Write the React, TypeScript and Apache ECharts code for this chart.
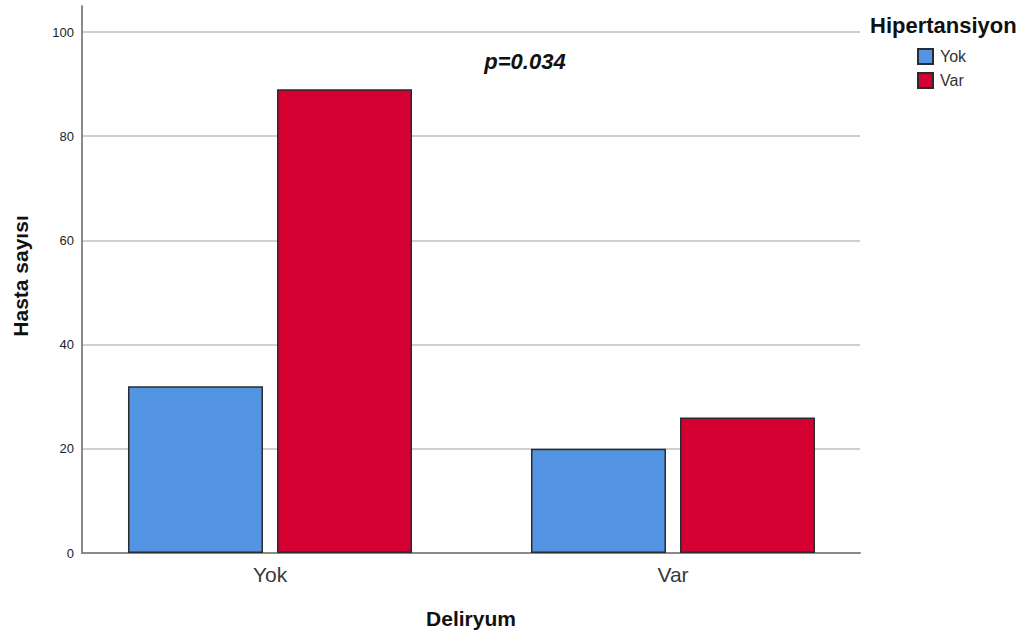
import React, { useEffect, useRef } from "react";
import * as echarts from "echarts";

const categories = ["Yok", "Var"];
const seriesNames = ["Yok", "Var"];
const yokValues = [32, 20];
const varValues = [89, 26];
const colors = ["#5394E3", "#D50032"];
const legendTitle = "Hipertansiyon";
const xTitle = "Deliryum";
const yTitle = "Hasta sayısı";
const annotation = "p=0.034";

const FONT = "'Liberation Sans', Arial, sans-serif";

export default function App() {
  const ref = useRef<HTMLDivElement>(null);
  useEffect(() => {
    if (!ref.current) return;
    const chart = echarts.init(ref.current, undefined, { renderer: "svg" });
    const gridTop = 6;
    const gridBottom = 86;
    chart.setOption({
      animation: false,
      backgroundColor: "#ffffff",
      textStyle: { fontFamily: FONT },
      grid: [
        { left: 82, right: 1027 - 860, top: gridTop, bottom: gridBottom, containLabel: false },
        { left: 68.5, right: 1027 - 874.5, top: gridTop, bottom: gridBottom, containLabel: false },
      ],
      xAxis: [
        {
          type: "category",
          gridIndex: 0,
          data: categories,
          axisLine: { show: true, lineStyle: { color: "#8a8a8a", width: 2 } },
          axisTick: { show: false },
          axisLabel: { show: false },
          splitLine: { show: false },
        },
        {
          type: "category",
          gridIndex: 1,
          data: categories,
          axisLine: { show: false },
          axisTick: { show: false },
          axisLabel: { show: true, fontSize: 21, color: "#3a3a3a", margin: 11, fontFamily: FONT },
          splitLine: { show: false },
        },
      ],
      yAxis: [
        {
          type: "value",
          gridIndex: 0,
          min: 0,
          max: 105,
          interval: 20,
          axisLine: { show: true, lineStyle: { color: "#8a8a8a", width: 2 } },
          axisTick: { show: false },
          axisLabel: { fontSize: 13, color: "#222222", margin: 8, showMaxLabel: false, fontFamily: FONT },
          splitLine: { show: true, showMaxLine: false, lineStyle: { color: "#cfcfcf", width: 2 } },
        },
        {
          type: "value",
          gridIndex: 1,
          min: 0,
          max: 105,
          interval: 20,
          axisLine: { show: false },
          axisTick: { show: false },
          axisLabel: { show: false },
          splitLine: { show: false },
        },
      ],
      legend: {
        data: seriesNames,
        orient: "vertical",
        left: 917,
        top: 48,
        padding: 0,
        itemWidth: 15,
        itemHeight: 15,
        itemGap: 7,
        icon: "rect",
        textStyle: { fontSize: 16, color: "#333333", fontFamily: FONT, padding: [0, 0, 0, 2] },
      },
      series: [
        {
          name: seriesNames[0],
          type: "bar",
          xAxisIndex: 1,
          yAxisIndex: 1,
          data: yokValues,
          barWidth: 135,
          barGap: "10.4%",
          itemStyle: { color: colors[0], borderColor: "#2b2b2b", borderWidth: 1.5 },
        },
        {
          name: seriesNames[1],
          type: "bar",
          xAxisIndex: 1,
          yAxisIndex: 1,
          data: varValues,
          barWidth: 135,
          barGap: "10.4%",
          itemStyle: { color: colors[1], borderColor: "#2b2b2b", borderWidth: 1.5 },
        },
      ],
      graphic: [
        {
          type: "text",
          left: 870,
          top: 14,
          style: { text: legendTitle, font: `bold 22px ${FONT}`, fill: "#111111" },
        },
        {
          type: "text",
          x: 525,
          y: 61,
          style: {
            text: annotation,
            font: `italic bold 22px ${FONT}`,
            fill: "#111111",
            textAlign: "center",
            textVerticalAlign: "middle",
          },
        },
        {
          type: "text",
          x: 471,
          y: 618,
          style: {
            text: xTitle,
            font: `bold 21px ${FONT}`,
            fill: "#111111",
            textAlign: "center",
            textVerticalAlign: "middle",
          },
        },
        {
          type: "text",
          x: 20,
          y: 276,
          rotation: Math.PI / 2,
          style: {
            text: yTitle,
            font: `bold 21px ${FONT}`,
            fill: "#111111",
            textAlign: "center",
            textVerticalAlign: "middle",
          },
        },
      ],
    });
    return () => chart.dispose();
  }, []);
  return <div ref={ref} style={{ width: 1027, height: 639, position: "absolute", left: 0, top: 0 }} />;
}
